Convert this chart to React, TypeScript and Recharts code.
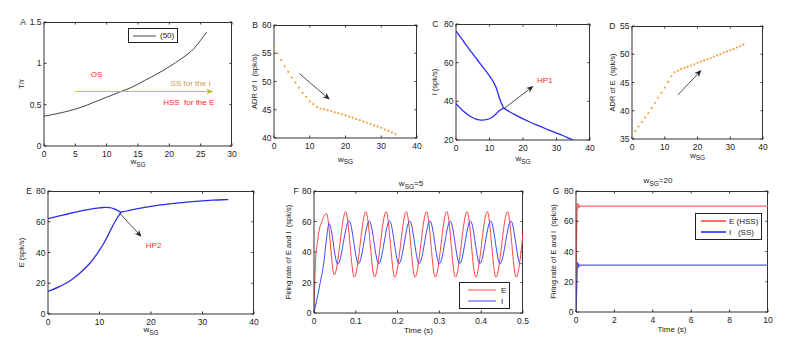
import React from 'react';
import { ComposedChart, Line, XAxis, YAxis, ReferenceLine, ReferenceDot, Legend, CartesianGrid } from 'recharts';

const FONT = '"Liberation Sans", Arial, Helvetica, sans-serif';
const AXIS = '#333';
const TXT = '#222';
const ORANGE = '#f2a23c';
const BLUE = '#2b2bf0';

// A: T/tau vs w_SG
const aW = [0, 2, 4, 6, 8, 10, 12, 14, 16, 18, 20, 22, 24, 25, 26];
const aT = [0.36, 0.39, 0.425, 0.47, 0.53, 0.59, 0.65, 0.71, 0.79, 0.87, 0.96, 1.06, 1.185, 1.28, 1.38];

// B: ADR of I
const bW = [0, 1, 2, 3, 4, 5, 6, 7, 8, 9, 10, 11, 12, 13, 14, 15, 16, 17, 18, 19, 20, 21, 22, 23, 24, 25, 26, 27, 28, 29, 30, 31, 32, 33, 34];
const bADR = [56.0, 55.0, 53.8, 52.7, 51.7, 50.7, 49.8, 48.9, 48.0, 47.3, 46.5, 46.0, 45.5, 45.2, 45.1, 44.9, 44.75, 44.55, 44.4, 44.2, 44.0, 43.8, 43.6, 43.35, 43.15, 42.9, 42.7, 42.5, 42.25, 42.0, 41.8, 41.5, 41.25, 41.0, 40.7];

// C: I branches
const cUpW = [0, 1, 2, 3, 4, 5, 6, 7, 8, 9, 10, 11, 12, 13, 14.2];
const cUpI = [76.4, 74, 71.6, 69.2, 66.8, 64.6, 62.3, 60, 57.8, 55.5, 53.2, 50.5, 47, 41.5, 36.5];
const cLoW = [0, 1, 2, 3, 4, 5, 6, 7, 8, 9, 10, 11, 12, 13, 14.2];
const cLoI = [38.8, 37, 35.3, 33.8, 32.5, 31.5, 30.8, 30.4, 30.3, 30.5, 31, 32, 33.6, 35.2, 36.5];
const cTailW = [14.2, 16, 18, 20, 22, 24, 26, 28, 30, 32, 34, 35];
const cTailI = [36.5, 34.6, 32.7, 30.9, 29.3, 27.8, 26.4, 25, 23.6, 22.2, 20.7, 20];

// D: ADR of E
const dW = bW;
const dADR = [35.6, 36.4, 37.2, 38.0, 38.8, 39.6, 40.5, 41.4, 42.3, 43.2, 44.1, 45.1, 46.1, 46.8, 47.1, 47.4, 47.6, 47.8, 48.0, 48.2, 48.5, 48.7, 48.9, 49.1, 49.3, 49.6, 49.8, 50.0, 50.3, 50.5, 50.7, 50.9, 51.2, 51.4, 51.7];

// E: E branches
const eUpW = [0, 2, 4, 6, 8, 10, 11, 12, 13, 14.2];
const eUpE = [62, 63.6, 65.2, 66.7, 68, 69, 69.3, 69.2, 68.2, 66.2];
const eLoW = [0, 2, 4, 6, 8, 10, 11, 12, 13, 14.2];
const eLoE = [14.7, 17.5, 21, 26, 32.5, 41.5, 47, 53.5, 60, 66.2];
const eTailW = [14.2, 16, 18, 20, 22, 24, 26, 28, 30, 32, 34, 35];
const eTailE = [66.2, 67.6, 68.9, 70, 71, 71.8, 72.5, 73.1, 73.6, 74, 74.3, 74.4];

// F: time courses at w_SG = 5
const fTE = [0, 0.003, 0.01, 0.02, 0.03, 0.0485, 0.0758, 0.0965, 0.1242, 0.1449, 0.1726, 0.1933, 0.221, 0.2417, 0.2694, 0.2901, 0.3178, 0.3385, 0.3662, 0.3869, 0.4146, 0.4353, 0.463, 0.4837, 0.5];
const fE = [0, 30, 50, 61, 65.2, 25, 66.5, 23.5, 66.5, 23.5, 66.5, 23.5, 66.5, 23.5, 66.5, 23.5, 66.5, 23.5, 66.5, 23.5, 66.5, 23.5, 66.5, 23.5, 52];
const fTI = [0, 0.007, 0.015, 0.024, 0.03, 0.036, 0.0568, 0.084, 0.1064, 0.1324, 0.1548, 0.1808, 0.2032, 0.2292, 0.2516, 0.2776, 0.3, 0.326, 0.3484, 0.3744, 0.3968, 0.4228, 0.4452, 0.4712, 0.4936, 0.5];
const fI = [0, 9, 20, 34, 49, 58.7, 32, 60.5, 32.3, 60.3, 32.3, 60.3, 32.3, 60.3, 32.3, 60.3, 32.3, 60.3, 32.3, 60.3, 32.3, 60.3, 32.3, 60.3, 32.3, 33];

// G: time courses at w_SG = 20
const gT = [0, 0.02, 0.05, 0.08, 0.11, 0.14, 0.18, 0.25, 10];
const gE = [0, 45, 66, 72, 68.5, 71, 69.6, 70, 70];
const gI = [0, 8, 22, 33, 29, 32, 30.5, 31, 31];

// axis ranges and ticks
const aX = [0, 30], aXt = [0, 5, 10, 15, 20, 25, 30], aY = [0, 1.5], aYt = [0, 0.5, 1, 1.5];
const wX = [0, 40], wXt = [0, 10, 20, 30, 40];
const bY = [40, 60], bYt = [40, 45, 50, 55, 60];
const cY = [20, 80], cYt = [20, 40, 60, 80];
const dY = [35, 55], dYt = [35, 40, 45, 50, 55];
const rY = [0, 80], rYt = [0, 20, 40, 60, 80];
const fX = [0, 0.5], fXt = [0, 0.1, 0.2, 0.3, 0.4, 0.5];
const gX = [0, 10], gXt = [0, 2, 4, 6, 8, 10];

// annotation anchors (data units)
const aArrow = [{ x: 5, y: 0.66 }, { x: 27, y: 0.66 }];
const bArrow = [{ x: 7.1, y: 51.4 }, { x: 15.6, y: 46.8 }];
const cArrow = [{ x: 14.3, y: 36.2 }, { x: 23.1, y: 47.9 }];
const dArrow = [{ x: 14, y: 42.8 }, { x: 21.2, y: 47.2 }];
const eArrow = [{ x: 13.8, y: 66 }, { x: 18.15, y: 50.2 }];

const zip = (xs: number[], ys: number[]) => xs.map((x, i) => ({ x, y: ys[i] }));

const tickStyle = { fontSize: 8.5, fill: TXT, fontFamily: FONT };

function frame(xd: number[], xt: number[], yd: number[], yt: number[], xLab: any, yLab: any) {
  return [
    <CartesianGrid key="box" stroke={AXIS} strokeOpacity={1} strokeWidth={1} fill="none"
      horizontalCoordinatesGenerator={({ offset }: any) => [offset.top + 0.5]}
      verticalCoordinatesGenerator={({ offset }: any) => [offset.left + offset.width - 0.5]} />,
    <XAxis key="xb" type="number" dataKey="x" domain={xd} ticks={xt} interval={0} height={34} stroke={AXIS}
      tickSize={-2.5} tickMargin={7} tick={tickStyle} label={xLab} allowDataOverflow />,
    <YAxis key="yl" type="number" domain={yd} ticks={yt} interval={0} width={40} stroke={AXIS}
      tickSize={-2.5} tickMargin={5} tick={tickStyle} label={yLab} allowDataOverflow />,
  ];
}

// small inward ticks on the top / right edges
const edge = (ticks: number[], dom: number[], horizontal: boolean) => (p: any) => {
  const { x1, y1, x2, y2 } = p;
  const span = dom[1] - dom[0];
  return (
    <g stroke={AXIS} strokeWidth={1}>
      {ticks.map((t) => {
        const f = (t - dom[0]) / span;
        const tx = x1 + f * (x2 - x1);
        const ty = y1 + f * (y2 - y1);
        return horizontal
          ? <line key={t} x1={tx} y1={ty} x2={tx} y2={ty + 2.5} />
          : <line key={t} x1={tx} y1={ty} x2={tx - 2.5} y2={ty} />;
      })}
    </g>
  );
};

const wLabel = (dy: number) => (p: any) => {
  const { x, y, width } = p.viewBox;
  return (
    <text x={x + width / 2} y={y + dy + 2} textAnchor="middle" fontSize={8} fill={TXT} fontFamily={FONT}>
      w<tspan fontSize={6.5} dy={2.5}>SG</tspan>
    </text>
  );
};

const timeLabel = (dy: number) => (p: any) => {
  const { x, y, width } = p.viewBox;
  return (
    <text x={x + width / 2} y={y + dy + 2.8} textAnchor="middle" fontSize={8} fill={TXT} fontFamily={FONT}>
      Time (s)
    </text>
  );
};

const wTitle = (val: string, dx: number, dy: number) => (p: any) => {
  const { x, y } = p.viewBox;
  return (
    <text x={x + dx} y={y + dy} textAnchor="middle" fontSize={8} fill={TXT} fontFamily={FONT}>
      w<tspan fontSize={6.5} dy={2.5}>SG</tspan><tspan fontSize={8} dy={-2.5}>{val}</tspan>
    </text>
  );
};

const yLabel = (text: string, dxL: number, letter: string, dxLetter: number) => (p: any) => {
  const { x, y, width, height } = p.viewBox;
  const ax = x + width;
  const cx = ax + dxL;
  const cy = y + height / 2;
  return (
    <g fontFamily={FONT} fill={TXT}>
      <text x={cx} y={cy} transform={`rotate(-90 ${cx} ${cy})`} textAnchor="middle" dominantBaseline="central"
        fontSize={7.5} style={{ whiteSpace: 'pre' }}>{text}</text>
      <text x={ax + dxLetter} y={y + 3} textAnchor="middle" fontSize={8.5}>{letter}</text>
    </g>
  );
};

const note = (value: string, color: string) => (p: any) => {
  const { x, y } = p.viewBox;
  return (
    <text x={x} y={y} fill={color} fontSize={8} fontFamily={FONT} textAnchor="middle" dominantBaseline="central"
      style={{ whiteSpace: 'pre' }}>{value}</text>
  );
};

const arrow = (color: string, w = 0.8) => (p: any) => {
  const { x1, y1, x2, y2 } = p;
  const a = Math.atan2(y2 - y1, x2 - x1);
  const L = 7, W = 3;
  const c = Math.cos(a), s = Math.sin(a);
  const bx = x2 - L * c, by = y2 - L * s;
  const nx = x2 - L * 0.7 * c, ny = y2 - L * 0.7 * s;
  const head = `${x2},${y2} ${bx + W * s},${by - W * c} ${nx},${ny} ${bx - W * s},${by + W * c}`;
  return (
    <g>
      <line x1={x1} y1={y1} x2={nx} y2={ny} stroke={color} strokeWidth={w} />
      <polygon points={head} fill={color} />
    </g>
  );
};

type Item = { name: string; color: string; width: number };
const legendBox = (items: Item[], lineLen: number, padL: number, gap: number, padV: number) => () => (
  <div style={{ border: '1px solid #222', background: '#fff', padding: `${padV}px 3px ${padV}px ${padL}px`,
    fontSize: 8, lineHeight: '11px', fontFamily: FONT, color: TXT }}>
    {items.map((it) => (
      <div key={it.name} style={{ display: 'flex', alignItems: 'center', whiteSpace: 'pre' }}>
        <svg width={lineLen} height={6}>
          <line x1={0} y1={3} x2={lineLen} y2={3} stroke={it.color} strokeWidth={it.width} />
        </svg>
        <span style={{ marginLeft: gap }}>{it.name}</span>
      </div>
    ))}
  </div>
);

function Panel({ left, top, width, height, mt, children }: any) {
  return (
    <div style={{ position: 'absolute', left, top }}>
      <ComposedChart width={width} height={height} margin={{ top: mt, right: 10, bottom: 0, left: 0 }}>
        {children}
      </ComposedChart>
    </div>
  );
}

const hidden = { r: 0, fill: 'none', stroke: 'none', ifOverflow: 'visible' as const };

export default function App() {
  return (
    <div style={{ position: 'absolute', left: 0, top: 0, width: 802, height: 351, background: '#fff', fontFamily: FONT }}>
      {/* A */}
      <Panel left={4} top={12} width={238} height={168} mt={10}>
        {frame(aX, aXt, aY, aYt, wLabel(16), yLabel('T/τ', -23, 'A', -21))}
        <ReferenceLine segment={[{ x: aX[0], y: aY[1] }, { x: aX[1], y: aY[1] }]} shape={edge(aXt, aX, true)} ifOverflow="visible" />
        <ReferenceLine segment={[{ x: aX[1], y: aY[0] }, { x: aX[1], y: aY[1] }]} shape={edge(aYt, aY, false)} ifOverflow="visible" />
        <Line data={zip(aW, aT)} dataKey="y" type="monotone" stroke="#444" strokeWidth={1} dot={false} activeDot={false} isAnimationActive={false} />
        <ReferenceLine segment={aArrow} shape={arrow('#b9c22c', 1)} ifOverflow="visible" />
        <ReferenceDot x={8.4} y={0.87} {...hidden} label={note('OS', '#ff2a2a')} />
        <ReferenceDot x={23.4} y={0.76} {...hidden} label={note('SS for the I', '#c89a55')} />
        <ReferenceDot x={23.1} y={0.53} {...hidden} label={note('HSS  for the E', '#ff2a2a')} />
        <Legend layout="vertical" align="center" verticalAlign="middle" wrapperStyle={{ left: 124, top: 16, width: 'auto' }}
          content={legendBox([{ name: '(50)', color: '#444', width: 1 }], 23, 4, 4, 1)} />
      </Panel>

      {/* B */}
      <Panel left={234} top={15} width={193} height={157} mt={10}>
        {frame(wX, wXt, bY, bYt, wLabel(21.5), yLabel('ADR of I  (spk/s)', -20, 'B', -19))}
        <ReferenceLine segment={[{ x: wX[0], y: bY[1] }, { x: wX[1], y: bY[1] }]} shape={edge(wXt, wX, true)} ifOverflow="visible" />
        <ReferenceLine segment={[{ x: wX[1], y: bY[0] }, { x: wX[1], y: bY[1] }]} shape={edge(bYt, bY, false)} ifOverflow="visible" />
        <Line data={zip(bW, bADR)} dataKey="y" stroke="none" dot={{ r: 1.1, fill: ORANGE, stroke: 'none' }} activeDot={false} isAnimationActive={false} />
        <ReferenceLine segment={bArrow} shape={arrow('#222')} ifOverflow="visible" />
      </Panel>

      {/* C */}
      <Panel left={416} top={14} width={184} height={160} mt={10}>
        {frame(wX, wXt, cY, cYt, wLabel(19), yLabel('I (spk/s)', -22, 'C', -20.7))}
        <ReferenceLine segment={[{ x: wX[0], y: cY[1] }, { x: wX[1], y: cY[1] }]} shape={edge(wXt, wX, true)} ifOverflow="visible" />
        <ReferenceLine segment={[{ x: wX[1], y: cY[0] }, { x: wX[1], y: cY[1] }]} shape={edge(cYt, cY, false)} ifOverflow="visible" />
        <Line data={zip(cUpW, cUpI)} dataKey="y" type="monotone" stroke={BLUE} strokeWidth={1.3} dot={false} activeDot={false} isAnimationActive={false} />
        <Line data={zip(cLoW, cLoI)} dataKey="y" type="monotone" stroke={BLUE} strokeWidth={1.3} dot={false} activeDot={false} isAnimationActive={false} />
        <Line data={zip(cTailW, cTailI)} dataKey="y" type="monotone" stroke={BLUE} strokeWidth={1.3} dot={false} activeDot={false} isAnimationActive={false} />
        <ReferenceLine segment={cArrow} shape={arrow('#222')} ifOverflow="visible" />
        <ReferenceDot x={26.5} y={51} {...hidden} label={note('HP1', '#ff2a2a')} />
      </Panel>

      {/* D */}
      <Panel left={592} top={16} width={181} height={157} mt={10}>
        {frame(wX, wXt, dY, dYt, wLabel(16.7), yLabel('ADR of E  (spk/s)', -20, 'D', -19.8))}
        <ReferenceLine segment={[{ x: wX[0], y: dY[1] }, { x: wX[1], y: dY[1] }]} shape={edge(wXt, wX, true)} ifOverflow="visible" />
        <ReferenceLine segment={[{ x: wX[1], y: dY[0] }, { x: wX[1], y: dY[1] }]} shape={edge(dYt, dY, false)} ifOverflow="visible" />
        <Line data={zip(dW, dADR)} dataKey="y" stroke="none" dot={{ r: 1.1, fill: ORANGE, stroke: 'none' }} activeDot={false} isAnimationActive={false} />
        <ReferenceLine segment={dArrow} shape={arrow('#222')} ifOverflow="visible" />
      </Panel>

      {/* E */}
      <Panel left={8} top={181} width={256} height={167} mt={10}>
        {frame(wX, wXt, rY, rYt, wLabel(16), yLabel('E (spk/s)', -27, 'E', -18.8))}
        <ReferenceLine segment={[{ x: wX[0], y: rY[1] }, { x: wX[1], y: rY[1] }]} shape={edge(wXt, wX, true)} ifOverflow="visible" />
        <ReferenceLine segment={[{ x: wX[1], y: rY[0] }, { x: wX[1], y: rY[1] }]} shape={edge(rYt, rY, false)} ifOverflow="visible" />
        <Line data={zip(eUpW, eUpE)} dataKey="y" type="monotone" stroke={BLUE} strokeWidth={1.3} dot={false} activeDot={false} isAnimationActive={false} />
        <Line data={zip(eLoW, eLoE)} dataKey="y" type="monotone" stroke={BLUE} strokeWidth={1.3} dot={false} activeDot={false} isAnimationActive={false} />
        <Line data={zip(eTailW, eTailE)} dataKey="y" type="monotone" stroke={BLUE} strokeWidth={1.3} dot={false} activeDot={false} isAnimationActive={false} />
        <ReferenceLine segment={eArrow} shape={arrow('#222')} ifOverflow="visible" />
        <ReferenceDot x={20.5} y={44.8} {...hidden} label={note('HP2', '#ff2a2a')} />
      </Panel>

      {/* F */}
      <Panel left={274} top={171} width={259} height={176} mt={20}>
        {frame(fX, fXt, rY, rYt, timeLabel(16.7), yLabel('Firing rate of E and I  (spk/s)', -25.7, 'F', -17.8))}
        <ReferenceLine segment={[{ x: fX[0], y: rY[1] }, { x: fX[1], y: rY[1] }]} shape={edge(fXt, fX, true)} ifOverflow="visible" />
        <ReferenceLine segment={[{ x: fX[1], y: rY[0] }, { x: fX[1], y: rY[1] }]} shape={edge(rYt, rY, false)} ifOverflow="visible" />
        <Line data={zip(fTE, fE)} dataKey="y" type="monotone" stroke="#ff4545" strokeWidth={1} dot={false} activeDot={false} isAnimationActive={false} />
        <Line data={zip(fTI, fI)} dataKey="y" type="monotone" stroke="#4545ff" strokeWidth={1} dot={false} activeDot={false} isAnimationActive={false} />
        <ReferenceDot x={0.25} y={80} {...hidden} label={wTitle('=5', -7.5, -5)} />
        <Legend layout="vertical" align="center" verticalAlign="middle" wrapperStyle={{ left: 185, top: 111, width: 'auto' }}
          content={legendBox([{ name: 'E', color: '#ff4545', width: 1 }, { name: 'I', color: '#4545ff', width: 1 }], 28, 8, 5, 1.5)} />
      </Panel>

      {/* G */}
      <Panel left={536} top={171} width={242} height={175} mt={20}>
        {frame(gX, gXt, rY, rYt, timeLabel(17.3), yLabel('Firing rate of E and I  (spk/s)', -22.4, 'G', -20))}
        <ReferenceLine segment={[{ x: gX[0], y: rY[1] }, { x: gX[1], y: rY[1] }]} shape={edge(gXt, gX, true)} ifOverflow="visible" />
        <ReferenceLine segment={[{ x: gX[1], y: rY[0] }, { x: gX[1], y: rY[1] }]} shape={edge(rYt, rY, false)} ifOverflow="visible" />
        <Line data={zip(gT, gE)} dataKey="y" stroke="#ff6a6a" strokeWidth={1.4} dot={false} activeDot={false} isAnimationActive={false} />
        <Line data={zip(gT, gI)} dataKey="y" stroke="#5555ff" strokeWidth={1.2} dot={false} activeDot={false} isAnimationActive={false} />
        <ReferenceDot x={5} y={80} {...hidden} label={wTitle('=20', -14, -7.6)} />
        <Legend layout="vertical" align="center" verticalAlign="middle" wrapperStyle={{ left: 159, top: 42, width: 'auto' }}
          content={legendBox([{ name: 'E (HSS)', color: '#ff6a6a', width: 2 }, { name: 'I   (SS)', color: '#5555ff', width: 2 }], 25, 5, 3, 1.5)} />
      </Panel>
    </div>
  );
}
